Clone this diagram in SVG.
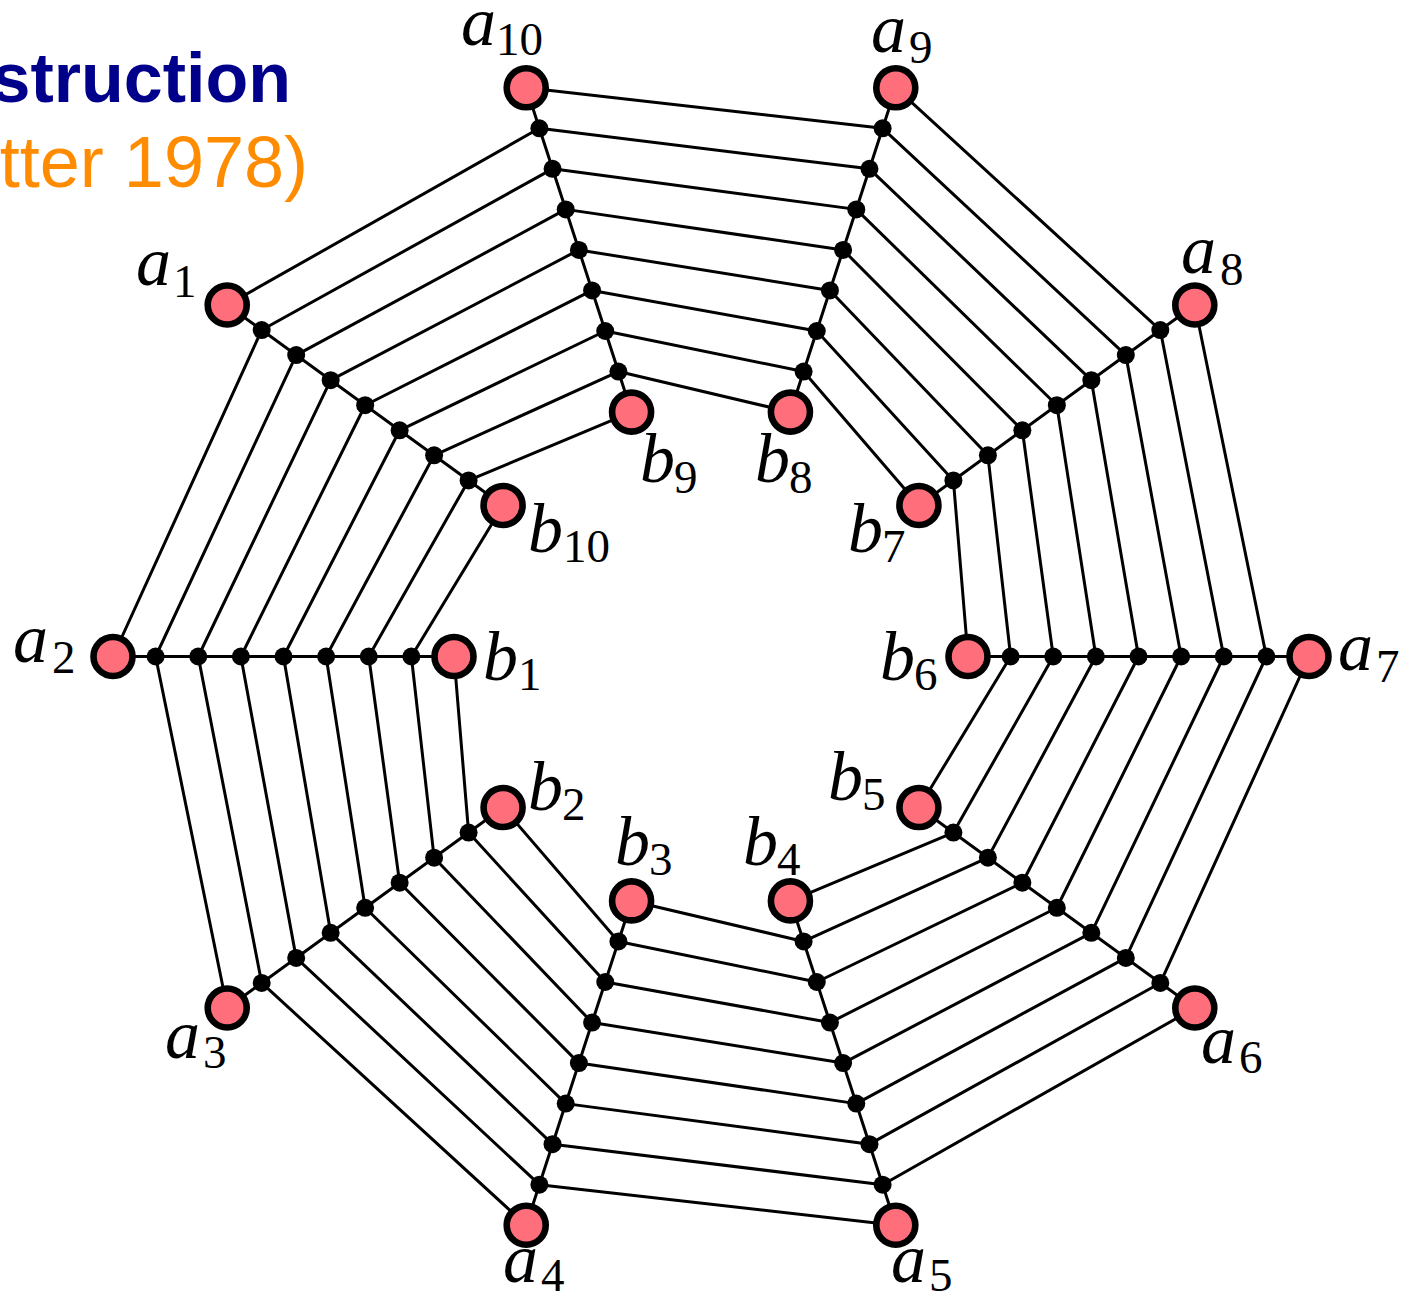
<svg xmlns="http://www.w3.org/2000/svg" width="1410" height="1297" viewBox="0 0 1410 1297">
<style>
.e{stroke:#000;stroke-width:3;fill:none;stroke-linecap:round}
.pk{fill:#ff6f7b;stroke:#000;stroke-width:6.6}
.dot{fill:#000}
.lbl{font-family:"Liberation Serif",serif;font-style:italic;font-size:70px;fill:#000}
.sub{font-family:"Liberation Serif",serif;font-style:normal;font-size:47px}
.t1{font-family:"Liberation Sans",Arial,sans-serif;font-weight:bold;font-size:70px;fill:#00008b}
.t2{font-family:"Liberation Sans",Arial,sans-serif;font-size:72px;fill:#ff8c00}
</style>
<rect width="1410" height="1297" fill="#fff"/>
<g id="title">
<text class="t1" x="291" y="102" text-anchor="end">struction</text>
<text class="t2" x="308" y="187" text-anchor="end">tter 1978)</text>
</g>
<g id="connectors">
<g id="rays">
<line class="e" x1="113" y1="656.5" x2="454" y2="656.5"/>
<line class="e" x1="227.21" y1="305" x2="503.08" y2="505.44"/>
<line class="e" x1="526.21" y1="87.77" x2="631.58" y2="412.08"/>
<line class="e" x1="895.79" y1="87.77" x2="790.42" y2="412.08"/>
<line class="e" x1="1194.79" y1="305" x2="918.92" y2="505.44"/>
<line class="e" x1="1309" y1="656.5" x2="968" y2="656.5"/>
<line class="e" x1="1194.79" y1="1008" x2="918.92" y2="807.56"/>
<line class="e" x1="895.79" y1="1225.23" x2="790.42" y2="900.92"/>
<line class="e" x1="526.21" y1="1225.23" x2="631.58" y2="900.92"/>
<line class="e" x1="227.21" y1="1008" x2="503.08" y2="807.56"/>
</g>
<path id="AB" class="e" d="M113,656.5L261.69,330.06M155.62,656.5L296.18,355.11M198.25,656.5L330.66,380.17M240.87,656.5L365.15,405.22M283.5,656.5L399.63,430.28M326.12,656.5L434.11,455.33M368.75,656.5L468.6,480.39M411.37,656.5L503.08,505.44"/>
<path id="BC" class="e" d="M227.21,305L539.38,128.31M261.69,330.06L552.55,168.85M296.18,355.11L565.72,209.38M330.66,380.17L578.9,249.92M365.15,405.22L592.07,290.46M399.63,430.28L605.24,331M434.11,455.33L618.41,371.54M468.6,480.39L631.58,412.08"/>
<path id="CD" class="e" d="M526.21,87.77L882.62,128.31M539.38,128.31L869.45,168.85M552.55,168.85L856.28,209.38M565.72,209.38L843.1,249.92M578.9,249.92L829.93,290.46M592.07,290.46L816.76,331M605.24,331L803.59,371.54M618.41,371.54L790.42,412.08"/>
<path id="DE" class="e" d="M895.79,87.77L1160.31,330.06M882.62,128.31L1125.82,355.11M869.45,168.85L1091.34,380.17M856.28,209.38L1056.85,405.22M843.1,249.92L1022.37,430.28M829.93,290.46L987.89,455.33M816.76,331L953.4,480.39M803.59,371.54L918.92,505.44"/>
<path id="EF" class="e" d="M1194.79,305L1266.38,656.5M1160.31,330.06L1223.75,656.5M1125.82,355.11L1181.13,656.5M1091.34,380.17L1138.5,656.5M1056.85,405.22L1095.88,656.5M1022.37,430.28L1053.25,656.5M987.89,455.33L1010.63,656.5M953.4,480.39L968,656.5"/>
<path id="FG" class="e" d="M1309,656.5L1160.31,982.94M1266.38,656.5L1125.82,957.89M1223.75,656.5L1091.34,932.83M1181.13,656.5L1056.85,907.78M1138.5,656.5L1022.37,882.72M1095.88,656.5L987.89,857.67M1053.25,656.5L953.4,832.61M1010.63,656.5L918.92,807.56"/>
<path id="GH" class="e" d="M1194.79,1008L882.62,1184.69M1160.31,982.94L869.45,1144.15M1125.82,957.89L856.28,1103.62M1091.34,932.83L843.1,1063.08M1056.85,907.78L829.93,1022.54M1022.37,882.72L816.76,982M987.89,857.67L803.59,941.46M953.4,832.61L790.42,900.92"/>
<path id="HI" class="e" d="M895.79,1225.23L539.38,1184.69M882.62,1184.69L552.55,1144.15M869.45,1144.15L565.72,1103.62M856.28,1103.62L578.9,1063.08M843.1,1063.08L592.07,1022.54M829.93,1022.54L605.24,982M816.76,982L618.41,941.46M803.59,941.46L631.58,900.92"/>
<path id="IJ" class="e" d="M526.21,1225.23L261.69,982.94M539.38,1184.69L296.18,957.89M552.55,1144.15L330.66,932.83M565.72,1103.62L365.15,907.78M578.9,1063.08L399.63,882.72M592.07,1022.54L434.11,857.67M605.24,982L468.6,832.61M618.41,941.46L503.08,807.56"/>
<path id="JA" class="e" d="M227.21,1008L155.62,656.5M261.69,982.94L198.25,656.5M296.18,957.89L240.87,656.5M330.66,932.83L283.5,656.5M365.15,907.78L326.12,656.5M399.63,882.72L368.75,656.5M434.11,857.67L411.37,656.5M468.6,832.61L454,656.5"/>
</g>
<g id="dots">
<g id="dA1"><circle class="dot" cx="155.62" cy="656.5" r="9"/></g>
<g id="dA2"><circle class="dot" cx="198.25" cy="656.5" r="9"/></g>
<g id="dA3"><circle class="dot" cx="240.87" cy="656.5" r="9"/></g>
<g id="dA4"><circle class="dot" cx="283.5" cy="656.5" r="9"/></g>
<g id="dA5"><circle class="dot" cx="326.12" cy="656.5" r="9"/></g>
<g id="dA6"><circle class="dot" cx="368.75" cy="656.5" r="9"/></g>
<g id="dA7"><circle class="dot" cx="411.37" cy="656.5" r="9"/></g>
<g id="dB1"><circle class="dot" cx="261.69" cy="330.06" r="9"/></g>
<g id="dB2"><circle class="dot" cx="296.18" cy="355.11" r="9"/></g>
<g id="dB3"><circle class="dot" cx="330.66" cy="380.17" r="9"/></g>
<g id="dB4"><circle class="dot" cx="365.15" cy="405.22" r="9"/></g>
<g id="dB5"><circle class="dot" cx="399.63" cy="430.28" r="9"/></g>
<g id="dB6"><circle class="dot" cx="434.11" cy="455.33" r="9"/></g>
<g id="dB7"><circle class="dot" cx="468.6" cy="480.39" r="9"/></g>
<g id="dC1"><circle class="dot" cx="539.38" cy="128.31" r="9"/></g>
<g id="dC2"><circle class="dot" cx="552.55" cy="168.85" r="9"/></g>
<g id="dC3"><circle class="dot" cx="565.72" cy="209.38" r="9"/></g>
<g id="dC4"><circle class="dot" cx="578.9" cy="249.92" r="9"/></g>
<g id="dC5"><circle class="dot" cx="592.07" cy="290.46" r="9"/></g>
<g id="dC6"><circle class="dot" cx="605.24" cy="331" r="9"/></g>
<g id="dC7"><circle class="dot" cx="618.41" cy="371.54" r="9"/></g>
<g id="dD1"><circle class="dot" cx="882.62" cy="128.31" r="9"/></g>
<g id="dD2"><circle class="dot" cx="869.45" cy="168.85" r="9"/></g>
<g id="dD3"><circle class="dot" cx="856.28" cy="209.38" r="9"/></g>
<g id="dD4"><circle class="dot" cx="843.1" cy="249.92" r="9"/></g>
<g id="dD5"><circle class="dot" cx="829.93" cy="290.46" r="9"/></g>
<g id="dD6"><circle class="dot" cx="816.76" cy="331" r="9"/></g>
<g id="dD7"><circle class="dot" cx="803.59" cy="371.54" r="9"/></g>
<g id="dE1"><circle class="dot" cx="1160.31" cy="330.06" r="9"/></g>
<g id="dE2"><circle class="dot" cx="1125.82" cy="355.11" r="9"/></g>
<g id="dE3"><circle class="dot" cx="1091.34" cy="380.17" r="9"/></g>
<g id="dE4"><circle class="dot" cx="1056.85" cy="405.22" r="9"/></g>
<g id="dE5"><circle class="dot" cx="1022.37" cy="430.28" r="9"/></g>
<g id="dE6"><circle class="dot" cx="987.89" cy="455.33" r="9"/></g>
<g id="dE7"><circle class="dot" cx="953.4" cy="480.39" r="9"/></g>
<g id="dF1"><circle class="dot" cx="1266.38" cy="656.5" r="9"/></g>
<g id="dF2"><circle class="dot" cx="1223.75" cy="656.5" r="9"/></g>
<g id="dF3"><circle class="dot" cx="1181.13" cy="656.5" r="9"/></g>
<g id="dF4"><circle class="dot" cx="1138.5" cy="656.5" r="9"/></g>
<g id="dF5"><circle class="dot" cx="1095.88" cy="656.5" r="9"/></g>
<g id="dF6"><circle class="dot" cx="1053.25" cy="656.5" r="9"/></g>
<g id="dF7"><circle class="dot" cx="1010.63" cy="656.5" r="9"/></g>
<g id="dG1"><circle class="dot" cx="1160.31" cy="982.94" r="9"/></g>
<g id="dG2"><circle class="dot" cx="1125.82" cy="957.89" r="9"/></g>
<g id="dG3"><circle class="dot" cx="1091.34" cy="932.83" r="9"/></g>
<g id="dG4"><circle class="dot" cx="1056.85" cy="907.78" r="9"/></g>
<g id="dG5"><circle class="dot" cx="1022.37" cy="882.72" r="9"/></g>
<g id="dG6"><circle class="dot" cx="987.89" cy="857.67" r="9"/></g>
<g id="dG7"><circle class="dot" cx="953.4" cy="832.61" r="9"/></g>
<g id="dH1"><circle class="dot" cx="882.62" cy="1184.69" r="9"/></g>
<g id="dH2"><circle class="dot" cx="869.45" cy="1144.15" r="9"/></g>
<g id="dH3"><circle class="dot" cx="856.28" cy="1103.62" r="9"/></g>
<g id="dH4"><circle class="dot" cx="843.1" cy="1063.08" r="9"/></g>
<g id="dH5"><circle class="dot" cx="829.93" cy="1022.54" r="9"/></g>
<g id="dH6"><circle class="dot" cx="816.76" cy="982" r="9"/></g>
<g id="dH7"><circle class="dot" cx="803.59" cy="941.46" r="9"/></g>
<g id="dI1"><circle class="dot" cx="539.38" cy="1184.69" r="9"/></g>
<g id="dI2"><circle class="dot" cx="552.55" cy="1144.15" r="9"/></g>
<g id="dI3"><circle class="dot" cx="565.72" cy="1103.62" r="9"/></g>
<g id="dI4"><circle class="dot" cx="578.9" cy="1063.08" r="9"/></g>
<g id="dI5"><circle class="dot" cx="592.07" cy="1022.54" r="9"/></g>
<g id="dI6"><circle class="dot" cx="605.24" cy="982" r="9"/></g>
<g id="dI7"><circle class="dot" cx="618.41" cy="941.46" r="9"/></g>
<g id="dJ1"><circle class="dot" cx="261.69" cy="982.94" r="9"/></g>
<g id="dJ2"><circle class="dot" cx="296.18" cy="957.89" r="9"/></g>
<g id="dJ3"><circle class="dot" cx="330.66" cy="932.83" r="9"/></g>
<g id="dJ4"><circle class="dot" cx="365.15" cy="907.78" r="9"/></g>
<g id="dJ5"><circle class="dot" cx="399.63" cy="882.72" r="9"/></g>
<g id="dJ6"><circle class="dot" cx="434.11" cy="857.67" r="9"/></g>
<g id="dJ7"><circle class="dot" cx="468.6" cy="832.61" r="9"/></g>
</g>
<g id="nodes">
<g id="a1"><circle class="pk" cx="227.21" cy="305" r="19.5"/><text class="lbl" x="136" y="285">a<tspan class="sub" x="173" y="297">1</tspan></text></g>
<g id="a2"><circle class="pk" cx="113" cy="656.5" r="19.5"/><text class="lbl" x="13" y="662">a<tspan class="sub" x="52" y="673">2</tspan></text></g>
<g id="a3"><circle class="pk" cx="227.21" cy="1008" r="19.5"/><text class="lbl" x="165" y="1058">a<tspan class="sub" x="203" y="1068">3</tspan></text></g>
<g id="a4"><circle class="pk" cx="526.21" cy="1225.23" r="19.5"/><text class="lbl" x="503" y="1282">a<tspan class="sub" x="541" y="1291">4</tspan></text></g>
<g id="a5"><circle class="pk" cx="895.79" cy="1225.23" r="19.5"/><text class="lbl" x="891" y="1282">a<tspan class="sub" x="929" y="1291">5</tspan></text></g>
<g id="a6"><circle class="pk" cx="1194.79" cy="1008" r="19.5"/><text class="lbl" x="1201" y="1063">a<tspan class="sub" x="1239" y="1073">6</tspan></text></g>
<g id="a7"><circle class="pk" cx="1309" cy="656.5" r="19.5"/><text class="lbl" x="1338" y="670">a<tspan class="sub" x="1376" y="682">7</tspan></text></g>
<g id="a8"><circle class="pk" cx="1194.79" cy="305" r="19.5"/><text class="lbl" x="1181" y="273">a<tspan class="sub" x="1220" y="285">8</tspan></text></g>
<g id="a9"><circle class="pk" cx="895.79" cy="87.77" r="19.5"/><text class="lbl" x="871" y="52">a<tspan class="sub" x="909" y="63">9</tspan></text></g>
<g id="a10"><circle class="pk" cx="526.21" cy="87.77" r="19.5"/><text class="lbl" x="461" y="45">a<tspan class="sub" x="496" y="55">10</tspan></text></g>
<g id="b1"><circle class="pk" cx="454" cy="656.5" r="19.5"/><text class="lbl" x="483" y="680">b<tspan class="sub" x="518" y="690">1</tspan></text></g>
<g id="b2"><circle class="pk" cx="503.08" cy="807.56" r="19.5"/><text class="lbl" x="528" y="810">b<tspan class="sub" x="562" y="820">2</tspan></text></g>
<g id="b3"><circle class="pk" cx="631.58" cy="900.92" r="19.5"/><text class="lbl" x="615" y="865">b<tspan class="sub" x="649" y="875">3</tspan></text></g>
<g id="b4"><circle class="pk" cx="790.42" cy="900.92" r="19.5"/><text class="lbl" x="743" y="865">b<tspan class="sub" x="777" y="875">4</tspan></text></g>
<g id="b5"><circle class="pk" cx="918.92" cy="807.56" r="19.5"/><text class="lbl" x="828" y="800">b<tspan class="sub" x="862" y="810">5</tspan></text></g>
<g id="b6"><circle class="pk" cx="968" cy="656.5" r="19.5"/><text class="lbl" x="880" y="680">b<tspan class="sub" x="914" y="690">6</tspan></text></g>
<g id="b7"><circle class="pk" cx="918.92" cy="505.44" r="19.5"/><text class="lbl" x="848" y="552">b<tspan class="sub" x="882" y="562">7</tspan></text></g>
<g id="b8"><circle class="pk" cx="790.42" cy="412.08" r="19.5"/><text class="lbl" x="755" y="482">b<tspan class="sub" x="789" y="493">8</tspan></text></g>
<g id="b9"><circle class="pk" cx="631.58" cy="412.08" r="19.5"/><text class="lbl" x="640" y="482">b<tspan class="sub" x="674" y="493">9</tspan></text></g>
<g id="b10"><circle class="pk" cx="503.08" cy="505.44" r="19.5"/><text class="lbl" x="528" y="552">b<tspan class="sub" x="563" y="562">10</tspan></text></g>
</g>
</svg>
